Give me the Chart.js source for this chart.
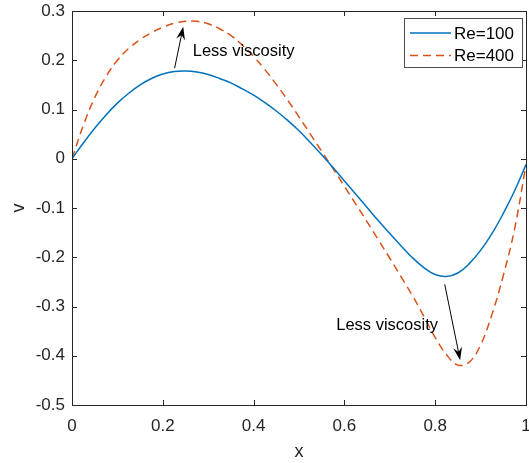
<!DOCTYPE html>
<html>
<head>
<meta charset="utf-8">
<script src="https://cdn.jsdelivr.net/npm/chart.js@4"></script>
<style>
  html, body { margin: 0; padding: 0; background: #fff; }
  #wrap { width: 529px; height: 463px; }
</style>
</head>
<body>
<div id="wrap"><canvas id="chartCanvas"></canvas></div>
<script>
// data
const xValues = [0, 0.025, 0.05, 0.075, 0.1, 0.125, 0.15, 0.175, 0.2, 0.225,
    0.25, 0.275, 0.3, 0.325, 0.35, 0.375, 0.4, 0.425, 0.45, 0.475,
    0.5, 0.525, 0.55, 0.575, 0.6, 0.625, 0.65, 0.675, 0.7, 0.725,
    0.75, 0.775, 0.8, 0.825, 0.85, 0.875, 0.9, 0.925, 0.95, 0.975, 1];
const re100 = [0, 0.032, 0.062, 0.089, 0.113, 0.133, 0.150, 0.163, 0.172, 0.177,
    0.178, 0.176, 0.171, 0.163, 0.154, 0.142, 0.129, 0.114, 0.097, 0.078,
    0.057, 0.033, 0.008, -0.018, -0.045, -0.072, -0.099, -0.126, -0.152, -0.177,
    -0.201, -0.221, -0.235, -0.239, -0.232, -0.213, -0.186, -0.152, -0.111, -0.065, -0.012];
const re400 = [0, 0.068, 0.124, 0.167, 0.200, 0.224, 0.242, 0.256, 0.267, 0.275,
    0.279, 0.279, 0.274, 0.264, 0.250, 0.231, 0.208, 0.181, 0.151, 0.119,
    0.085, 0.050, 0.015, -0.020, -0.056, -0.092, -0.128, -0.165, -0.202, -0.240,
    -0.278, -0.320, -0.363, -0.398, -0.419, -0.413, -0.378, -0.316, -0.237, -0.142, -0.012];
const seriesNames = ["Re=100", "Re=400"];
const xTicks = [0, 0.2, 0.4, 0.6, 0.8, 1];
const yTicks = [-0.5, -0.4, -0.3, -0.2, -0.1, 0, 0.1, 0.2, 0.3];

// arrows with text, in data units
const notes = [
    { text: "Less viscosity", tx: 0.266, ty: 0.217, from: [0.226, 0.184], to: [0.245, 0.268] },
    { text: "Less viscosity", tx: 0.582, ty: -0.338, from: [0.821, -0.255], to: [0.855, -0.409] }
];

const FONT = "'Liberation Sans', Arial, sans-serif";
const INK = "#262626";

const toPoints = ys => xValues.map((x, i) => ({ x: x, y: ys[i] }));

const matlabAxes = {
    id: "matlabAxes",
    afterDraw(chart) {
        const { ctx, chartArea: a, scales: { x, y } } = chart;
        ctx.save();
        ctx.strokeStyle = INK;
        ctx.lineWidth = 1;
        ctx.strokeRect(a.left + 0.5, a.top + 0.5, a.right - a.left, a.bottom - a.top);

        // inward ticks on all four sides
        const tl = 5;
        ctx.beginPath();
        xTicks.forEach(v => {
            const px = Math.round(x.getPixelForValue(v)) + 0.5;
            ctx.moveTo(px, a.bottom); ctx.lineTo(px, a.bottom - tl);
            ctx.moveTo(px, a.top); ctx.lineTo(px, a.top + tl);
        });
        yTicks.forEach(v => {
            const py = Math.round(y.getPixelForValue(v)) + 0.5;
            ctx.moveTo(a.left, py); ctx.lineTo(a.left + tl, py);
            ctx.moveTo(a.right, py); ctx.lineTo(a.right - tl, py);
        });
        ctx.stroke();

        // arrows + labels
        ctx.fillStyle = "#000";
        ctx.strokeStyle = "#000";
        ctx.font = "16.5px " + FONT;
        ctx.textBaseline = "middle";
        ctx.textAlign = "left";
        notes.forEach(n => {
            ctx.fillText(n.text, x.getPixelForValue(n.tx), y.getPixelForValue(n.ty));
            const x0 = x.getPixelForValue(n.from[0]), y0 = y.getPixelForValue(n.from[1]);
            const x1 = x.getPixelForValue(n.to[0]), y1 = y.getPixelForValue(n.to[1]);
            const len = Math.hypot(x1 - x0, y1 - y0);
            const ux = (x1 - x0) / len, uy = (y1 - y0) / len;
            const nx = -uy, ny = ux;
            const L = 13, W = 4.5;
            ctx.beginPath();
            ctx.moveTo(x0, y0);
            ctx.lineTo(x1 - ux * L * 0.6, y1 - uy * L * 0.6);
            ctx.lineWidth = 1;
            ctx.stroke();
            ctx.beginPath();
            ctx.moveTo(x1, y1);
            ctx.lineTo(x1 - ux * L + nx * W, y1 - uy * L + ny * W);
            ctx.lineTo(x1 - ux * L * 0.65, y1 - uy * L * 0.65);
            ctx.lineTo(x1 - ux * L - nx * W, y1 - uy * L - ny * W);
            ctx.closePath();
            ctx.fill();
        });

        // legend box, top right inside the axes
        const bw = 118, bh = 49;
        const bx = a.right - 4 - bw, by = a.top + 7;
        ctx.fillStyle = "#fff";
        ctx.fillRect(bx, by, bw, bh);
        ctx.strokeStyle = "#4d4d4d";
        ctx.lineWidth = 1;
        ctx.strokeRect(bx + 0.5, by + 0.5, bw, bh);
        ctx.font = "17px " + FONT;
        chart.data.datasets.forEach((ds, i) => {
            const ly = by + 15 + i * 22.5;
            ctx.beginPath();
            ctx.strokeStyle = ds.borderColor;
            ctx.lineWidth = 1.5;
            ctx.setLineDash(ds.borderDash || []);
            ctx.moveTo(bx + 6, ly);
            ctx.lineTo(bx + 47, ly);
            ctx.stroke();
            ctx.setLineDash([]);
            ctx.fillStyle = "#000";
            ctx.fillText(ds.label, bx + 50, ly + 1);
        });
        ctx.restore();
    }
};

const ctx = document.getElementById("chartCanvas").getContext("2d");

new Chart(ctx, {
    type: "line",
    data: {
        datasets: [{
            label: seriesNames[0],
            data: toPoints(re100),
            borderColor: "#0072BD",
            borderWidth: 1.5,
            pointRadius: 0,
            fill: false,
            tension: 0.4
        }, {
            label: seriesNames[1],
            data: toPoints(re400),
            borderColor: "#D95319",
            borderWidth: 1.5,
            borderDash: [8, 5],
            pointRadius: 0,
            fill: false,
            tension: 0.4
        }]
    },
    options: {
        responsive: true,
        maintainAspectRatio: false,
        animation: false,
        layout: { padding: { top: 11, right: 3, left: 0, bottom: 0 } },
        plugins: {
            legend: { display: false },
            tooltip: { enabled: false }
        },
        scales: {
            x: {
                type: "linear",
                min: 0,
                max: 1,
                afterBuildTicks: s => { s.ticks = xTicks.map(v => ({ value: v })); },
                afterFit: s => { s.height = 58; s.paddingLeft = 0; s.paddingRight = 0; },
                grid: { display: false, drawTicks: false },
                border: { display: false },
                ticks: {
                    padding: 11,
                    maxRotation: 0,
                    autoSkip: false,
                    color: INK,
                    font: { family: FONT, size: 17 },
                    callback: v => String(Math.round(v * 10) / 10)
                },
                title: {
                    display: true,
                    text: "x",
                    color: INK,
                    font: { family: FONT, size: 18 },
                    padding: { top: 0, bottom: 0 }
                }
            },
            y: {
                min: -0.5,
                max: 0.3,
                afterBuildTicks: s => { s.ticks = yTicks.map(v => ({ value: v })); },
                afterFit: s => { s.width = 72; s.paddingTop = 0; s.paddingBottom = 0; },
                grid: { display: false, drawTicks: false },
                border: { display: false },
                ticks: {
                    padding: 7,
                    autoSkip: false,
                    color: INK,
                    font: { family: FONT, size: 17 },
                    callback: v => String(Math.round(v * 10) / 10)
                },
                title: {
                    display: true,
                    text: "v",
                    color: INK,
                    font: { family: FONT, size: 18 },
                    padding: { top: 8, bottom: 0 }
                }
            }
        }
    },
    plugins: [matlabAxes]
});
</script>
</body>
</html>
